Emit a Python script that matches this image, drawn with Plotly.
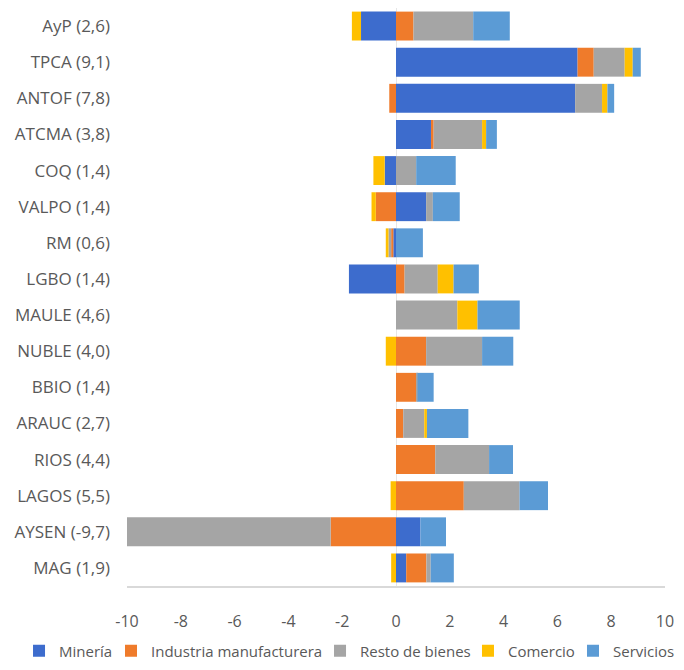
import plotly.graph_objects as go

regions = ["AyP (2,6)", "TPCA (9,1)", "ANTOF (7,8)", "ATCMA (3,8)", "COQ (1,4)",
           "VALPO (1,4)", "RM (0,6)", "LGBO (1,4)", "MAULE (4,6)", "NUBLE (4,0)",
           "BBIO (1,4)", "ARAUC (2,7)", "RIOS (4,4)", "LAGOS (5,5)", "AYSEN (-9,7)", "MAG (1,9)"]

mineria   = [-1.30, 6.75, 6.66, 1.30, -0.42, 1.12, -0.10, -1.75, 0.00, 0.00, 0.00, 0.00, 0.00, 0.00, 0.91, 0.38]
industria = [0.65, 0.60, -0.25, 0.10, 0.00, -0.75, -0.08, 0.32, 0.00, 1.12, 0.75, 0.27, 1.46, 2.52, -2.43, 0.75]
resto     = [2.22, 1.15, 1.00, 1.80, 0.75, 0.25, -0.10, 1.23, 2.28, 2.08, 0.05, 0.78, 2.00, 2.07, -9.10, 0.16]
comercio  = [-0.34, 0.30, 0.20, 0.15, -0.42, -0.16, -0.10, 0.59, 0.75, -0.38, 0.00, 0.10, 0.00, -0.20, 0.00, -0.18]
servicios = [1.36, 0.30, 0.25, 0.40, 1.47, 1.00, 1.00, 0.94, 1.57, 1.16, 0.60, 1.54, 0.89, 1.06, 0.95, 0.86]

x_tickvals = [-10, -8, -6, -4, -2, 0, 2, 4, 6, 8, 10]
x_ticktext = ["-10", "-8", "-6", "-4", "-2", "0", "2", "4", "6", "8", "10"]

series_names = ["Minería", "Industria manufacturera", "Resto de bienes", "Comercio", "Servicios"]
series_values = [mineria, industria, resto, comercio, servicios]
series_colors = ["#3D6CCD", "#EF7B2B", "#A5A5A5", "#FFC000", "#5B9BD5"]
legend_ids = ["legend", "legend2", "legend3", "legend4", "legend5"]
legend_x = [0.0165, 0.1542, 0.4671, 0.6886, 0.8458]   # container fractions, one legend per series

FIG_W, FIG_H = 668, 654

fig = go.Figure()
for name, vals, color, lid in zip(series_names, series_values, series_colors, legend_ids):
    fig.add_trace(go.Bar(
        y=regions, x=vals, name=name, orientation="h", legend=lid,
        marker=dict(color=color, line=dict(width=0)),
    ))

legend_common = dict(orientation="h", xref="container", yref="container",
                     xanchor="left", y=1 - 643 / FIG_H, yanchor="middle",
                     font=dict(size=15, color="#595959"),
                     itemwidth=30, bgcolor="rgba(0,0,0,0)")
legends = {lid: dict(legend_common, x=lx) for lid, lx in zip(legend_ids, legend_x)}

fig.update_layout(
    barmode="relative",
    bargap=0.2,
    width=FIG_W, height=FIG_H,
    margin=dict(l=119, r=11, t=0, b=76, autoexpand=False),
    paper_bgcolor="white", plot_bgcolor="white",
    font=dict(family="Open Sans, Liberation Sans, sans-serif", size=16, color="#595959"),
    showlegend=True,
    xaxis=dict(range=[-10, 10], tickvals=x_tickvals, ticktext=x_ticktext,
               showgrid=False, zeroline=True, automargin=False,
               zerolinecolor="#E6E6E6", zerolinewidth=1,
               showline=True, linecolor="#D9D9D9", linewidth=1.5,
               ticks="", ticklabelstandoff=20,
               tickfont=dict(size=16, color="#595959")),
    yaxis=dict(autorange="reversed", showgrid=False, ticks="", showline=False,
               automargin=False, ticklabelstandoff=16,
               tickfont=dict(size=17, color="#595959")),
    **legends,
)

fig.write_html("out.html")
